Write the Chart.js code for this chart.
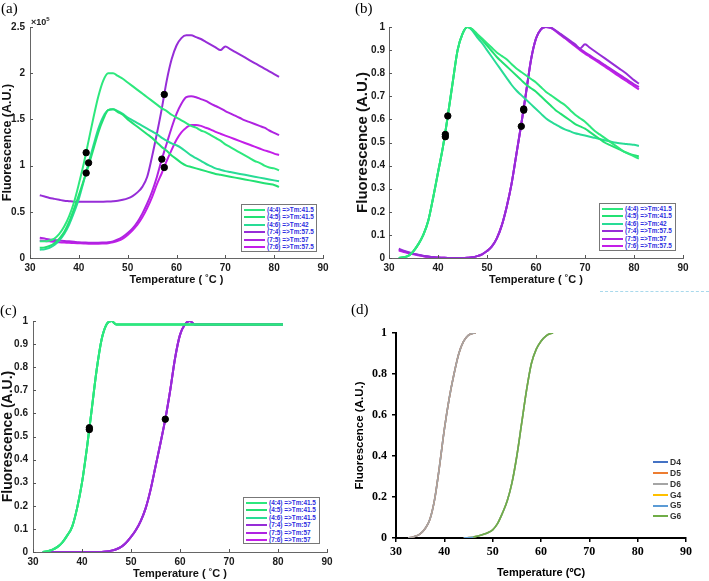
<!DOCTYPE html>
<html><head><meta charset="utf-8">
<script src="https://cdn.jsdelivr.net/npm/chart.js@4.4.1/dist/chart.umd.min.js"></script>
<style>
html,body{margin:0;padding:0;background:#fff;}
#wrap{position:relative;width:709px;height:581px;overflow:hidden;background:#fff;}
canvas{position:absolute;}
.plabel{position:absolute;font-family:"Liberation Serif","DejaVu Serif",serif;font-size:15px;color:#000;line-height:1;}
.exp{position:absolute;font:bold 9px "Liberation Sans",Arial,sans-serif;color:#222;}
.exp sup{font-size:6px;}
.leg{position:absolute;border:1px solid #777;background:#fff;box-sizing:border-box;padding:1px 1px 0 2px;overflow:hidden;}
.leg .it{display:flex;align-items:center;height:7.5px;}
.leg .ln{width:21px;height:2px;margin-right:2px;flex:none;}
.leg .tx{font:bold 6.4px "Liberation Sans",Arial,sans-serif;color:#2d2de0;white-space:nowrap;line-height:1;}
.legd{position:absolute;}
.legd .it{display:flex;align-items:center;height:10.8px;}
.legd .ln{width:15px;height:2px;margin-right:2px;flex:none;}
.legd .tx{font:bold 8.5px "Liberation Sans",Arial,sans-serif;color:#333;line-height:1;}
#dash{position:absolute;left:600px;top:291px;width:109px;border-top:1.5px dashed #a9d9ec;}
</style></head>
<body><div id="wrap">
<canvas id="ca" width="350" height="290" style="left:0;top:0"></canvas>
<canvas id="cb" width="359" height="290" style="left:350px;top:0"></canvas>
<canvas id="cc" width="350" height="291" style="left:0;top:290px"></canvas>
<canvas id="cd" width="359" height="291" style="left:350px;top:290px"></canvas>
<div class="plabel" style="left:1px;top:1px">(a)</div>
<div class="plabel" style="left:355px;top:1px">(b)</div>
<div class="plabel" style="left:0px;top:303px">(c)</div>
<div class="plabel" style="left:351px;top:302px">(d)</div>
<div class="exp" style="left:31px;top:16px">×10<sup>5</sup></div>
<div id="dash"></div>
<div class="leg" id="legA" style="left:241px;top:204px;width:76px;height:48px"></div>
<div class="leg" id="legB" style="left:599px;top:203px;width:77px;height:48px"></div>
<div class="leg" id="legC" style="left:243px;top:497px;width:77px;height:47px"></div>
<div class="legd" id="legD" style="left:653px;top:457px"></div>
</div>
<script>
// ---------------- DATA ----------------
// common temperature grid (°C) for panels a, b, c
const temps = [32,33,34,35,36,37,38,39,40,41,42,43,44,45,46,47,48,49,50,51,52,53,54,55,56,57,58,59,60,61,62,63,64,65,66,67,68,69,70,71,72,73,74,75,76,77,78,79,80,81];

const seriesLabelsAB = ['(4:4) =>Tm:41.5','(4:5) =>Tm:41.5','(4:6) =>Tm:42','(7:4) =>Tm:57.5','(7:5) =>Tm:57','(7:6) =>Tm:57.5'];
const seriesLabelsC  = ['(4:4) =>Tm:41.5','(4:5) =>Tm:41.5','(4:6) =>Tm:41.5','(7:4) =>Tm:57','(7:5) =>Tm:57','(7:6) =>Tm:57'];

// Panel (a): raw fluorescence, in units of 1e5
const a44 = [0.18,0.18,0.19,0.21,0.26,0.34,0.45,0.6,0.8,1.02,1.27,1.52,1.75,1.92,2.0,2.0,1.97,1.94,1.9,1.86,1.82,1.78,1.74,1.7,1.66,1.62,1.59,1.55,1.52,1.49,1.46,1.43,1.41,1.38,1.36,1.33,1.3,1.27,1.23,1.2,1.17,1.14,1.11,1.08,1.05,1.03,1.0,0.98,0.97,0.95];
const a45 = [0.11,0.115,0.13,0.16,0.21,0.28,0.39,0.53,0.68,0.84,1.0,1.18,1.36,1.5,1.6,1.61,1.58,1.55,1.5,1.46,1.42,1.38,1.34,1.3,1.25,1.2,1.16,1.11,1.07,1.03,1.0,0.985,0.97,0.955,0.94,0.925,0.91,0.9,0.89,0.88,0.87,0.86,0.85,0.84,0.83,0.82,0.81,0.8,0.79,0.77];
const a46 = [0.09,0.095,0.11,0.14,0.19,0.26,0.36,0.49,0.64,0.83,1.03,1.22,1.4,1.53,1.6,1.61,1.59,1.56,1.52,1.49,1.46,1.43,1.4,1.37,1.34,1.3,1.27,1.24,1.22,1.19,1.15,1.11,1.08,1.05,1.02,0.995,0.97,0.955,0.94,0.93,0.92,0.91,0.9,0.89,0.88,0.87,0.86,0.85,0.84,0.83];
const a74 = [0.68,0.665,0.65,0.64,0.63,0.62,0.615,0.61,0.61,0.61,0.61,0.61,0.61,0.61,0.612,0.615,0.62,0.63,0.645,0.67,0.71,0.77,0.88,1.1,1.35,1.62,1.92,2.15,2.3,2.38,2.41,2.41,2.39,2.37,2.34,2.31,2.28,2.25,2.29,2.26,2.23,2.2,2.17,2.14,2.11,2.08,2.05,2.02,1.99,1.96];
const a75 = [0.22,0.21,0.2,0.195,0.19,0.185,0.18,0.175,0.17,0.168,0.165,0.165,0.165,0.167,0.17,0.18,0.2,0.23,0.27,0.32,0.39,0.48,0.59,0.72,0.88,1.07,1.24,1.41,1.56,1.67,1.74,1.75,1.74,1.72,1.7,1.67,1.645,1.62,1.59,1.565,1.54,1.515,1.49,1.47,1.45,1.43,1.41,1.38,1.355,1.33];
const a76 = [0.19,0.185,0.18,0.175,0.17,0.167,0.165,0.162,0.16,0.158,0.155,0.155,0.155,0.157,0.16,0.17,0.185,0.21,0.25,0.3,0.36,0.44,0.54,0.66,0.8,0.92,1.05,1.17,1.28,1.36,1.41,1.44,1.44,1.43,1.41,1.39,1.365,1.345,1.325,1.305,1.285,1.265,1.245,1.225,1.205,1.185,1.165,1.15,1.13,1.115];
const tmA_T = [41.5,42,41.5,57.5,57,57.5];
const tmA_V = [1.14,1.03,0.92,1.77,1.07,0.98];

// Panel (b): normalised fluorescence
const b44 = [0,0.003,0.01,0.03,0.06,0.1,0.16,0.26,0.37,0.48,0.615,0.76,0.9,0.97,1.0,0.99,0.97,0.95,0.93,0.91,0.89,0.875,0.86,0.84,0.82,0.805,0.79,0.775,0.76,0.74,0.72,0.705,0.69,0.675,0.66,0.64,0.62,0.605,0.59,0.57,0.55,0.535,0.52,0.505,0.49,0.475,0.46,0.45,0.44,0.43];
const b45 = [0,0.003,0.01,0.03,0.06,0.1,0.16,0.26,0.37,0.48,0.615,0.76,0.9,0.97,1.0,0.99,0.965,0.945,0.92,0.895,0.87,0.85,0.83,0.81,0.79,0.77,0.75,0.735,0.72,0.7,0.68,0.66,0.64,0.625,0.61,0.595,0.58,0.57,0.56,0.545,0.53,0.515,0.5,0.49,0.48,0.47,0.46,0.452,0.445,0.44];
const b46 = [0,0.003,0.01,0.03,0.06,0.1,0.16,0.26,0.37,0.48,0.615,0.76,0.9,0.97,1.0,0.985,0.955,0.93,0.9,0.87,0.84,0.81,0.78,0.75,0.725,0.705,0.685,0.665,0.645,0.625,0.605,0.59,0.578,0.566,0.556,0.548,0.54,0.535,0.53,0.525,0.52,0.515,0.51,0.505,0.5,0.497,0.495,0.492,0.49,0.485];
const b74 = [0.04,0.032,0.025,0.019,0.014,0.01,0.006,0.004,0.002,0.001,0,0,0,0,0.001,0.003,0.008,0.016,0.03,0.05,0.085,0.14,0.22,0.32,0.45,0.58,0.72,0.86,0.95,0.99,1.0,0.998,0.985,0.97,0.955,0.94,0.925,0.907,0.925,0.91,0.895,0.88,0.865,0.85,0.835,0.82,0.805,0.788,0.77,0.755];
const b75 = [0.036,0.029,0.023,0.018,0.013,0.009,0.006,0.004,0.002,0.001,0,0,0,0,0.001,0.003,0.008,0.016,0.03,0.05,0.085,0.14,0.22,0.32,0.45,0.58,0.72,0.86,0.95,0.99,1.0,0.997,0.984,0.968,0.952,0.936,0.92,0.905,0.89,0.877,0.863,0.85,0.836,0.822,0.808,0.794,0.78,0.766,0.752,0.74];
const b76 = [0.032,0.026,0.021,0.016,0.012,0.008,0.005,0.003,0.002,0.001,0,0,0,0,0.001,0.003,0.008,0.016,0.03,0.05,0.085,0.14,0.22,0.32,0.45,0.58,0.72,0.86,0.95,0.99,1.0,0.996,0.982,0.966,0.95,0.933,0.917,0.9,0.885,0.871,0.857,0.843,0.829,0.815,0.8,0.786,0.772,0.758,0.744,0.73];
const tmB_T = [41.5,42,41.5,57,57.5,57.5];
const tmB_V = [0.535,0.615,0.525,0.57,0.645,0.64];

// Panel (c): fitted, normalised
const c4x = [0,0.003,0.01,0.022,0.042,0.072,0.11,0.19,0.3,0.45,0.62,0.79,0.92,0.985,1.0,0.985,0.985,0.985,0.985,0.985,0.985,0.985,0.985,0.985,0.985,0.985,0.985,0.985,0.985,0.985,0.985,0.985,0.985,0.985,0.985,0.985,0.985,0.985,0.985,0.985,0.985,0.985,0.985,0.985,0.985,0.985,0.985,0.985,0.985,0.985];
const c7x = [0,0,0,0,0,0,0,0,0,0,0,0,0,0.002,0.006,0.012,0.022,0.04,0.065,0.095,0.135,0.19,0.27,0.37,0.47,0.575,0.7,0.84,0.94,0.985,1.0,0.985,0.985,0.985,0.985,0.985,0.985,0.985,0.985,0.985,0.985,0.985,0.985,0.985,0.985,0.985,0.985,0.985,0.985,0.985];
const tmC_T = [41.5,41.5,57];
const tmC_V = [0.538,0.53,0.575];

// Panel (d)
const dLabels = ['D4','D5','D6','G4','G5','G6'];
const dTemps = [32.5,33,34,35,36,37,38,39,40,41,42,43,44,45,46,46.5];
const dVals  = [0,0.002,0.008,0.02,0.045,0.09,0.19,0.35,0.53,0.68,0.8,0.9,0.96,0.99,0.999,1.0];
const gTemps = [44,45,46,47,48,49,50,51,52,53,54,55,56,57,58,59,60,61,62,62.5];
const gVals  = [0,0.002,0.005,0.01,0.017,0.026,0.04,0.07,0.12,0.18,0.27,0.4,0.56,0.72,0.85,0.92,0.96,0.985,0.998,1.0];

const xTicks = [30,40,50,60,70,80,90];

// ---------------- STYLE ----------------
const GREENS = ['rgb(45,232,125)','rgb(35,225,115)','rgb(40,220,150)'];
const PURPLES = ['rgb(150,45,215)','rgb(175,35,225)','rgb(195,30,232)'];
const DCOLORS = ['#4472C4','#ED7D31','#A5A5A5','#FFC000','#5B9BD5','#70AD47'];
const SANS = '"Liberation Sans", Arial, sans-serif';
const fmt = v => String(Number(v.toFixed(3)));

const pts = (xs, ys) => xs.map((x,i)=>({x, y: ys[i]}));

const innerTicks = {
  id: 'innerTicks',
  afterDatasetsDraw(chart, args, o) {
    if (!o || !o.len) return;
    const ctx = chart.ctx, ca = chart.chartArea;
    const xs = chart.scales.x, ys = chart.scales.y;
    ctx.save(); ctx.strokeStyle = o.color; ctx.lineWidth = 1;
    xs.ticks.forEach((t,i)=>{ const px = Math.round(xs.getPixelForTick(i))+0.5;
      ctx.beginPath(); ctx.moveTo(px, ca.bottom); ctx.lineTo(px, ca.bottom - o.len); ctx.stroke(); });
    ys.ticks.forEach((t,i)=>{ const py = Math.round(ys.getPixelForTick(i))+0.5;
      ctx.beginPath(); ctx.moveTo(ca.left, py); ctx.lineTo(ca.left + o.len, py); ctx.stroke(); });
    ctx.restore();
  }
};

function lineDs(label, xs, ys, color, w) {
  return { label, data: pts(xs, ys), borderColor: color, backgroundColor: color,
    borderWidth: w, pointRadius: 0, cubicInterpolationMode: 'monotone', fill: false };
}
function dotDs(xs, ys) {
  return { label: 'Tm', data: pts(xs, ys), showLine: false, pointRadius: 3.2, pointHoverRadius: 3.2,
    pointBackgroundColor: '#000', pointBorderColor: '#000', borderColor: '#000', order: -1, isDot: true };
}

function matlabChart(id, datasets, L) {
  return new Chart(document.getElementById(id), {
    type: 'line',
    data: { datasets },
    plugins: [innerTicks],
    options: {
      responsive: false, animation: false, devicePixelRatio: 1,
      layout: { padding: { top: L.top, right: L.right, left: 0, bottom: 0 } },
      plugins: { legend: { display: false }, tooltip: { enabled: false },
        innerTicks: { len: 3, color: '#555' } },
      scales: {
        x: { type: 'linear', min: 30, max: 90,
          afterBuildTicks: s => { s.ticks = xTicks.map(v => ({ value: v })); },
          afterFit: s => { s.height = L.xH; },
          grid: { display: false, drawTicks: false },
          border: { display: true, color: '#666', width: 1 },
          ticks: { padding: L.xPad, color: '#1a1a1a', font: { family: SANS, size: 10, weight: 'bold' }, maxRotation: 0 },
          title: { display: true, text: 'Temperature ( ˚C )', color: '#111',
            font: { family: SANS, size: 11, weight: 'bold' }, padding: { top: 0, bottom: L.xtPad } } },
        y: { type: 'linear', min: 0, max: L.ymax,
          afterFit: s => { s.width = L.yW; },
          grid: { display: false, drawTicks: false },
          border: { display: true, color: '#666', width: 1 },
          ticks: { stepSize: L.step, padding: L.yPad, color: '#1a1a1a', callback: fmt,
            font: { family: SANS, size: 10, weight: 'bold' } },
          title: { display: true, text: 'Fluorescence (A.U.)', color: '#111',
            font: { family: SANS, size: L.ytSize, weight: 'bold' }, padding: { top: L.ytPad, bottom: 0 } } }
      }
    }
  });
}

function buildLegend(elId, chart) {
  const el = document.getElementById(elId);
  chart.data.datasets.filter(d => !d.isDot).forEach(d => {
    const it = document.createElement('div'); it.className = 'it';
    const ln = document.createElement('div'); ln.className = 'ln'; ln.style.background = d.borderColor;
    const tx = document.createElement('div'); tx.className = 'tx'; tx.textContent = d.label;
    it.appendChild(ln); it.appendChild(tx); el.appendChild(it);
  });
}

// Panel (a)
const chA = matlabChart('ca', [
  dotDs(tmA_T, tmA_V),
  lineDs(seriesLabelsAB[0], temps, a44, GREENS[0], 2),
  lineDs(seriesLabelsAB[1], temps, a45, GREENS[1], 2),
  lineDs(seriesLabelsAB[2], temps, a46, GREENS[2], 2),
  lineDs(seriesLabelsAB[3], temps, a74, PURPLES[0], 2),
  lineDs(seriesLabelsAB[4], temps, a75, PURPLES[1], 2),
  lineDs(seriesLabelsAB[5], temps, a76, PURPLES[2], 2)
], { top: 27, right: 27, xH: 32, yW: 30, ymax: 2.5, step: 0.5, xPad: 4, yPad: 5, xtPad: 3, ytPad: 0, ytSize: 12.5 });
buildLegend('legA', chA);

// Panel (b)
const chB = matlabChart('cb', [
  dotDs(tmB_T, tmB_V),
  lineDs(seriesLabelsAB[0], temps, b44, GREENS[0], 2),
  lineDs(seriesLabelsAB[1], temps, b45, GREENS[1], 2),
  lineDs(seriesLabelsAB[2], temps, b46, GREENS[2], 2),
  lineDs(seriesLabelsAB[3], temps, b74, PURPLES[0], 2),
  lineDs(seriesLabelsAB[4], temps, b75, PURPLES[1], 2),
  lineDs(seriesLabelsAB[5], temps, b76, PURPLES[2], 2)
], { top: 27, right: 26, xH: 32, yW: 39, ymax: 1, step: 0.1, xPad: 4, yPad: 4, xtPad: 3, ytPad: 4, ytSize: 15 });
buildLegend('legB', chB);

// Panel (c)
const chC = matlabChart('cc', [
  dotDs(tmC_T, tmC_V),
  lineDs(seriesLabelsC[0], temps, c4x, GREENS[0], 2),
  lineDs(seriesLabelsC[1], temps, c4x, GREENS[1], 2),
  lineDs(seriesLabelsC[2], temps, c4x, GREENS[2], 2),
  lineDs(seriesLabelsC[3], temps, c7x, PURPLES[0], 2),
  lineDs(seriesLabelsC[4], temps, c7x, PURPLES[1], 2),
  lineDs(seriesLabelsC[5], temps, c7x, PURPLES[2], 2)
], { top: 31, right: 23, xH: 29, yW: 33, ymax: 1, step: 0.1, xPad: 4, yPad: 5, xtPad: 0, ytPad: 0, ytSize: 14 });
buildLegend('legC', chC);

// Panel (d)
const SERIF = '"Liberation Serif", "Times New Roman", serif';
const dSets = [
  { ...lineDs(dLabels[0], dTemps, dVals, DCOLORS[0], 1.6), order: 3 },
  { ...lineDs(dLabels[1], dTemps, dVals, DCOLORS[1], 1.6), order: 2 },
  { ...lineDs(dLabels[2], dTemps, dVals, DCOLORS[2], 1.6), order: 1 },
  { ...lineDs(dLabels[3], gTemps, gVals, DCOLORS[3], 1.6), order: 3 },
  { ...lineDs(dLabels[4], gTemps, gVals, DCOLORS[4], 1.6), order: 2 },
  { ...lineDs(dLabels[5], gTemps.slice(2), gVals.slice(2), DCOLORS[5], 1.6), order: 1 }
];
const chD = new Chart(document.getElementById('cd'), {
  type: 'line',
  data: { datasets: dSets },
  options: {
    responsive: false, animation: false, devicePixelRatio: 1,
    layout: { padding: { top: 43, right: 23, left: 0, bottom: 0 } },
    plugins: { legend: { display: false }, tooltip: { enabled: false } },
    scales: {
      x: { type: 'linear', min: 30, max: 90,
        afterBuildTicks: s => { s.ticks = xTicks.map(v => ({ value: v })); },
        afterFit: s => { s.height = 43; },
        grid: { drawOnChartArea: false, drawTicks: true, tickLength: 4, color: '#000', lineWidth: 1.5 },
        border: { display: true, color: '#000', width: 2 },
        ticks: { padding: 3, color: '#000', font: { family: SERIF, size: 12, weight: 'bold' }, maxRotation: 0 },
        title: { display: true, text: 'Temperature (ºC)', color: '#000',
          font: { family: SANS, size: 11, weight: 'bold' }, padding: { top: 0, bottom: 1 } } },
      y: { type: 'linear', min: 0, max: 1,
        afterFit: s => { s.width = 46; },
        grid: { drawOnChartArea: false, drawTicks: true, tickLength: 4, color: '#000', lineWidth: 1.5 },
        border: { display: true, color: '#000', width: 2 },
        ticks: { stepSize: 0.2, padding: 5, color: '#000', callback: fmt, font: { family: SERIF, size: 12, weight: 'bold' } },
        title: { display: true, text: 'Fluorescence (A.U.)', color: '#000',
          font: { family: SANS, size: 11.5, weight: 'bold' }, padding: { top: 3, bottom: 0 } } }
    }
  }
});
buildLegend('legD', chD);
</script>
</body></html>
